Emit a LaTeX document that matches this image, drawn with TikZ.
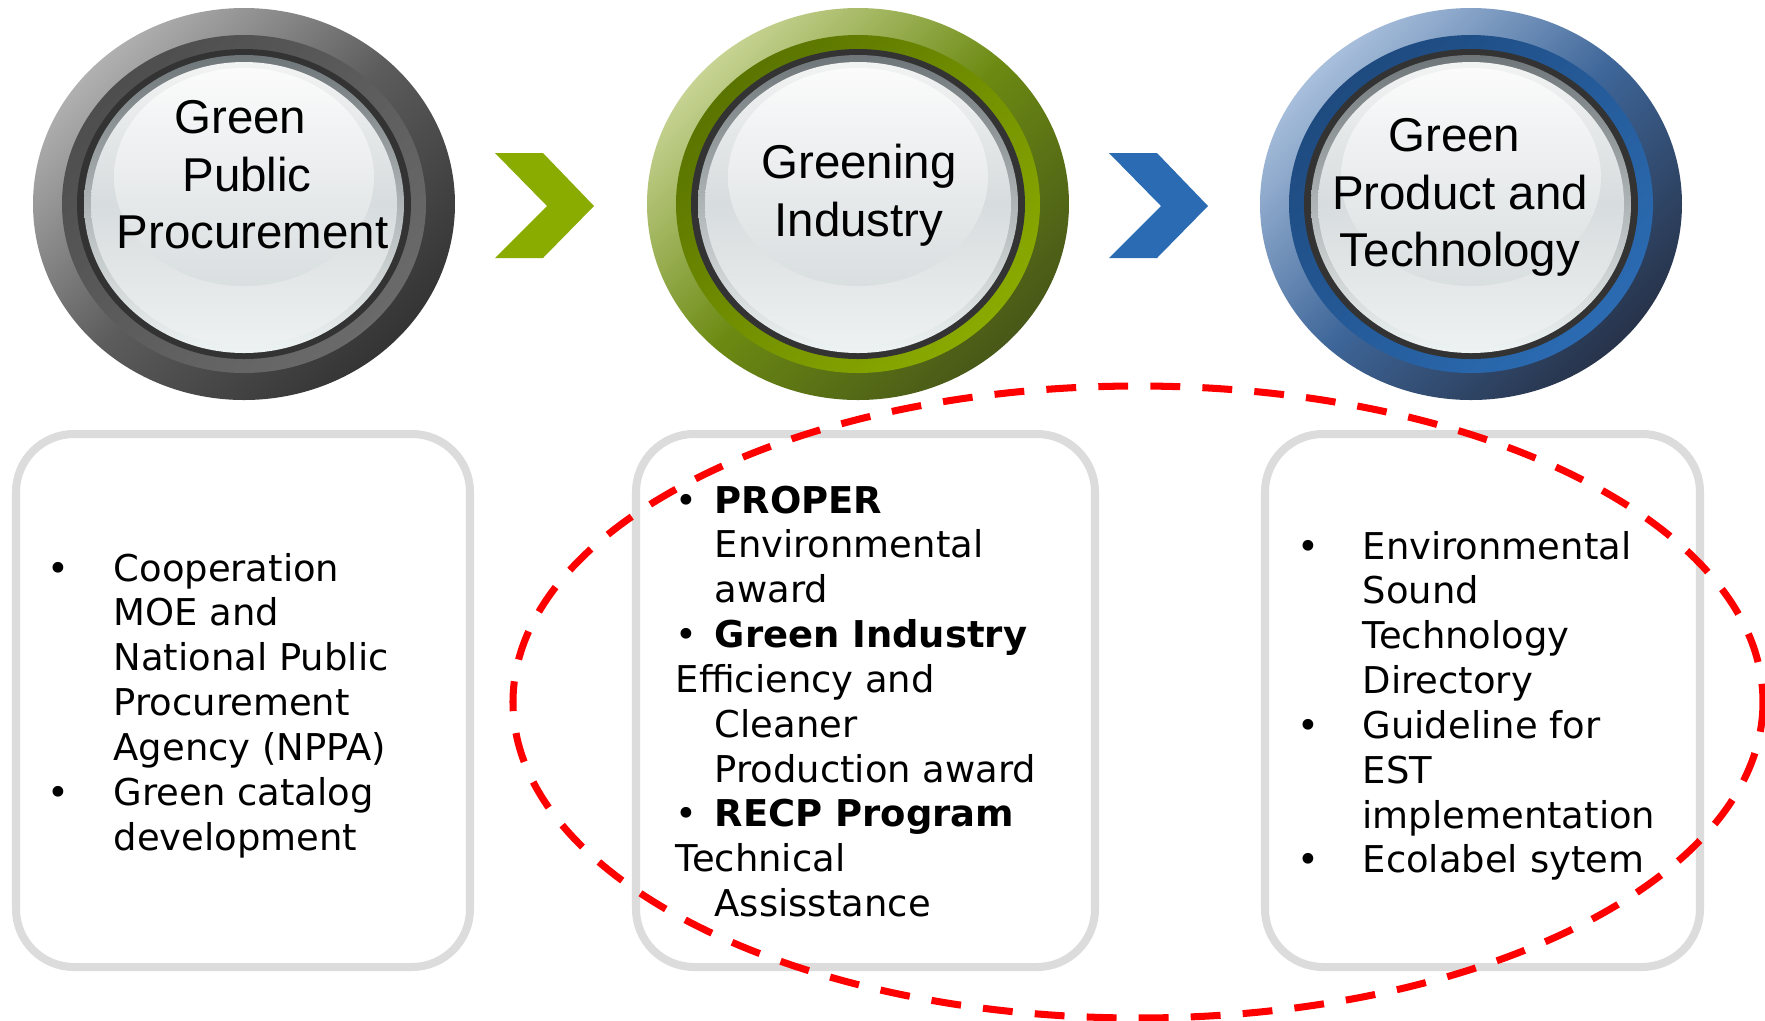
\documentclass[tikz,border=0pt]{standalone}
\usepackage{fontspec}
\newfontfamily\arialf{Liberation Sans}
\newfontfamily\verdf{DejaVu Sans}
\newlength\pxu \setlength\pxu{0.01cm}
\definecolor{btnline}{HTML}{333333}
\definecolor{bevtop}{HTML}{6F7679}
\definecolor{bevbot}{HTML}{EEF3F3}
\definecolor{facetop}{HTML}{F2F3F3}
\definecolor{facemid}{HTML}{D7DCDE}
\definecolor{facebot}{HTML}{EEF1F1}
\definecolor{hltop}{HTML}{FBFBFB}
\definecolor{hlbot}{HTML}{D9DEE0}
\definecolor{gyA}{HTML}{B0B0B0}
\definecolor{gyB}{HTML}{5C5C5C}
\definecolor{gyC}{HTML}{343434}
\definecolor{gyD}{HTML}{4E4E4E}
\definecolor{gyE}{HTML}{6A6A6A}
\definecolor{gnA}{HTML}{C6D393}
\definecolor{gnB}{HTML}{6C8A12}
\definecolor{gnC}{HTML}{485818}
\definecolor{gnD}{HTML}{5A7400}
\definecolor{gnE}{HTML}{8AAA00}
\definecolor{blA}{HTML}{A8BFDC}
\definecolor{blB}{HTML}{3E6699}
\definecolor{blC}{HTML}{27334A}
\definecolor{blD}{HTML}{1E4A7F}
\definecolor{blE}{HTML}{2B6BB2}
\definecolor{chevgreen}{HTML}{8AAB00}
\definecolor{chevblue}{HTML}{2A6BB3}
\definecolor{boxgray}{HTML}{DCDCDC}
\definecolor{dashred}{HTML}{FF0000}
\newcommand\mybtn[7]{%
\begin{scope}[shift={(#1,#2)}]
\shade[top color=#3, bottom color=#5, middle color=#4, shading angle=45] (0,0) ellipse [x radius=211, y radius=196];
\shade[top color=#6, bottom color=#7, shading angle=45] (0,0) ellipse [x radius=182, y radius=169];
\fill[btnline] (0,0) ellipse [x radius=167, y radius=155];
\shade[top color=bevtop, bottom color=bevbot] (0,0) ellipse [x radius=160, y radius=149];
\shade[top color=facetop, bottom color=facebot, middle color=facemid] (0,0) ellipse [x radius=153, y radius=142];
\shade[top color=hltop, bottom color=hlbot] (0,-27) ellipse [x radius=130, y radius=109];
\end{scope}}
\begin{document}
\begin{tikzpicture}[x=0.01cm,y=-0.01cm,
  btntext/.style={font=\arialf\fontsize{13.5pt}{16.3pt}\selectfont, align=center, inner sep=0pt, anchor=north},
  boxtext/.style={font=\verdf\fontsize{10.5pt}{12.75pt}\selectfont, align=left, inner sep=0pt, anchor=north west},
  infobox/.style={draw=boxgray, line width=2.28pt, rounded corners=16.5pt, fill=white},
  redring/.style={draw=dashred, line width=2pt, dash pattern=on 8.5pt off 6.3pt}]
\useasboundingbox (0,0) rectangle (1765,1020);
\fill[white] (0,0) rectangle (1765,1020);
% buttons
\mybtn{244}{204}{gyA}{gyB}{gyC}{gyD}{gyE}
\mybtn{858}{204}{gnA}{gnB}{gnC}{gnD}{gnE}
\mybtn{1471}{204}{blA}{blB}{blC}{blD}{blE}
\node[btntext] (b1) at (247,93) {\strut Green\kern3.8pt\mbox{}\\Public\\\mbox{}\kern3.2pt Procurement};
\node[btntext] (b2) at (859,138) {\strut Greening\\Industry};
\node[btntext] (b3) at (1460,111) {\strut Green\kern3.2pt\mbox{}\\Product and\\Technology};
% chevrons
\fill[chevgreen] (495,153) -- (543,153) -- (594,206) -- (543,258) -- (495,258) -- (547,206) -- cycle;
\fill[chevblue] (1109,153) -- (1157,153) -- (1208,206) -- (1157,258) -- (1109,258) -- (1161,206) -- cycle;
% boxes
\draw[infobox] (16,434) rectangle (470,967);
\draw[infobox] (636,434) rectangle (1095,967);
\draw[infobox] (1265,434) rectangle (1700,967);
\node[boxtext] (t1) at (47,549) {\strut\makebox[66\pxu][l]{•}Cooperation\\
\hspace*{66\pxu}MOE and\\
\hspace*{66\pxu}National Public\\
\hspace*{66\pxu}Procurement\\
\hspace*{66\pxu}Agency (NPPA)\\
\makebox[66\pxu][l]{•}Green catalog\\
\hspace*{66\pxu}development};
\node[boxtext] (t2) at (675,481) {\strut\makebox[39\pxu][l]{•}\textbf{PROPER}\\
\hspace*{39\pxu}Environmental\\
\hspace*{39\pxu}award\\
\makebox[39\pxu][l]{•}\textbf{Green Industry}\\
Efficiency and\\
\hspace*{39\pxu}Cleaner\\
\hspace*{39\pxu}Production award\\
\makebox[39\pxu][l]{•}\textbf{RECP Program}\\
Technical\\
\hspace*{39\pxu}Assisstance};
\node[boxtext] (t3) at (1297,527) {\strut\makebox[65\pxu][l]{•}Environmental\\
\hspace*{65\pxu}Sound\\
\hspace*{65\pxu}Technology\\
\hspace*{65\pxu}Directory\\
\makebox[65\pxu][l]{•}Guideline for\\
\hspace*{65\pxu}EST\\
\hspace*{65\pxu}implementation\\
\makebox[65\pxu][l]{•}Ecolabel sytem};
% red dashed ellipse
\draw[redring] (1138,702) ellipse [x radius=625, y radius=316];
\end{tikzpicture}
\end{document}
